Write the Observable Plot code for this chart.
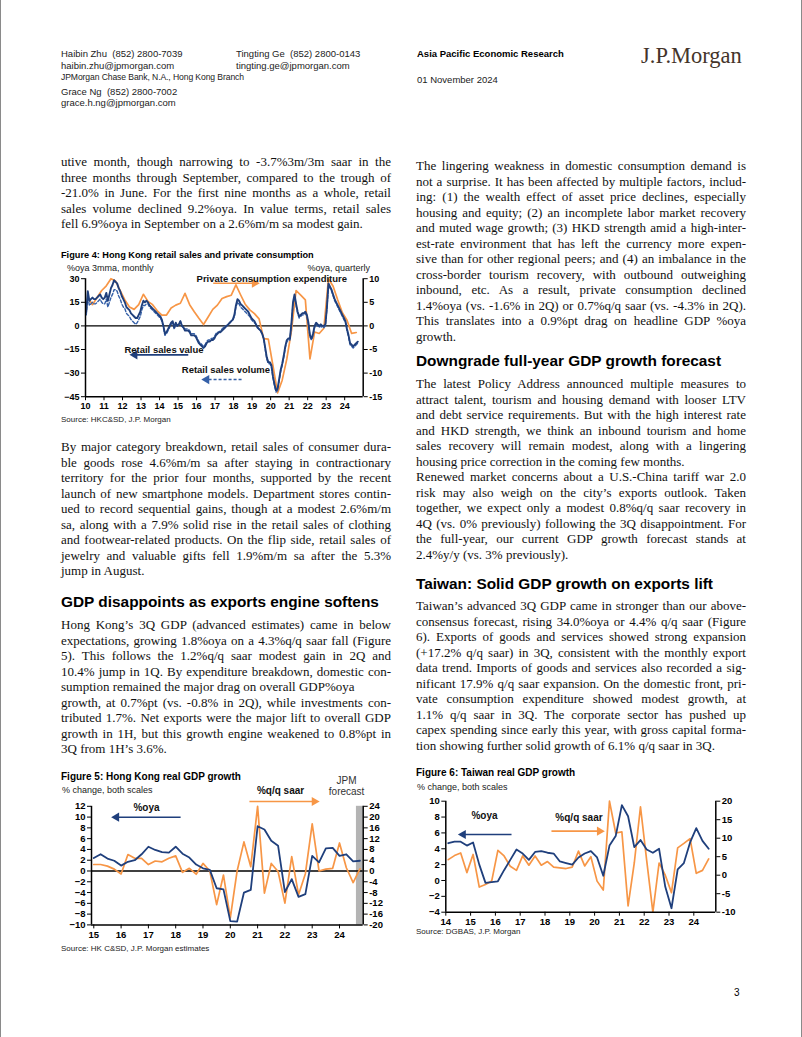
<!DOCTYPE html>
<html><head><meta charset="utf-8">
<script src="https://cdn.jsdelivr.net/npm/d3@7"></script>
<script src="https://cdn.jsdelivr.net/npm/@observablehq/plot@0.6"></script>
<style>
html,body{margin:0;padding:0;background:#fff;}
#page{position:relative;width:802px;height:1037px;overflow:hidden;font-family:"Liberation Sans",Arial,sans-serif;color:#000;box-sizing:border-box;border-left:1px solid #8a8a8a;border-right:1px solid #8a8a8a;}
.a{position:absolute;white-space:nowrap;}
.hdr{font-size:9.5px;line-height:11px;color:#222;}
.ln{position:absolute;white-space:nowrap;height:15.5px;line-height:15.5px;font-family:"Liberation Serif","Times New Roman",serif;font-size:13px;color:#111;}
.h2{font-weight:bold;font-size:15.4px;line-height:18px;}
.ft{font-weight:bold;font-size:10px;line-height:12px;}
.sub{font-size:9px;line-height:11px;color:#222;}
.src{font-size:8px;line-height:10px;color:#222;}
.chart{position:absolute;}
.chart svg{overflow:visible;}
</style></head>
<body><div id="page"></div>
<script>
// ---------------- DATA ----------------
// Figure 4: HK retail sales, %oya 3mma, monthly from Jan 2010 to Sep 2024
const retailValue = [
  9, 22, 16, 17, 18, 17, 17, 18, 19, 20, 18, 17,
  18, 21, 16, 20, 24, 26, 29, 28, 27, 24, 22, 19,
  17, 15, 12, 11, 10, 8, 7, 6, 5, 5, 7, 9,
  13, 16, 15, 16, 15, 13, 12, 11, 10, 9, 8, 7,
  6, 4, 0, -5, -4, -2, 0, 2, 3, -1, 2, 0,
  1, 3, 0, -1, -3, -3, -3, -4, -6, -6, -6, -7,
  -9, -11, -12, -13, -14, -13, -11, -10, -10, -9, -9, -8,
  -6, -5, -4, -4, -3, -2, -1, 0, 1, 2, 3, 4,
  7, 13, 17, 16, 14, 13, 12, 11, 10, 9, 7, 5,
  4, 3, 1, -1, -2, -3, -5, -8, -14, -20, -23, -23,
  -25, -32, -37, -41, -40, -34, -28, -24, -19, -13, -9, -8,
  -8, 2, 15, 20, 14, 9, 6, 7, 8, 8, 9, 7,
  2, -6, -8, -5, 0, 2, 1, 0, 1, 0, 0, 1,
  12, 27, 25, 23, 20, 17, 15, 13, 11, 9, 7, 5,
  3, -2, -6, -11, -12, -13, -12, -11, -10
];
const retailVolume = [
  7, 19, 13, 14, 15, 14, 14, 15, 16, 17, 15, 14,
  14, 17, 12, 15, 18, 20, 23, 23, 22, 19, 17, 14,
  12, 11, 8, 7, 6, 4, 3, 2, 1, 2, 4, 6,
  10, 13, 13, 14, 14, 12, 11, 10, 9, 8, 7, 6,
  5, 3, -1, -6, -5, -3, -1, 1, 2, -2, 1, 0,
  1, 3, 0, -1, -2, -2, -2, -3, -5, -5, -5, -6,
  -8, -10, -11, -12, -13, -12, -10, -9, -9, -8, -8, -7,
  -5, -4, -4, -3, -2, -1, 0, 0, 1, 2, 3, 4,
  6, 12, 15, 14, 12, 11, 10, 9, 8, 7, 6, 4,
  3, 2, 1, -1, -2, -3, -5, -8, -15, -21, -24, -24,
  -26, -33, -38, -42, -41, -35, -29, -25, -20, -14, -10, -9,
  -9, 1, 14, 19, 13, 8, 5, 6, 7, 7, 8, 6,
  1, -7, -9, -6, -1, 1, 0, -1, 0, -1, -1, 0,
  11, 26, 24, 22, 19, 16, 14, 12, 10, 8, 6, 4,
  2, -3, -7, -12, -13, -14, -13, -12, -11
];
// Private consumption expenditure, %oya, quarterly 1Q10-3Q24 (right scale)
const privateConsumption = [
  6.0, 4.5, 6.0, 7.5,   8.5, 10.0, 9.5, 7.5,   5.5, 4.0, 3.5, 4.5,
  6.7, 5.2, 4.5, 3.2,   2.3, 2.3, 3.8, 4.4,   4.8, 6.9, 4.5, 3.0,
  1.6, 0.3, 1.9, 3.5,   4.4, 5.8, 6.2, 6.5,   8.7, 6.6, 4.6, 3.4,
  2.6, 1.5, -2.7, -2.8, -8.4, -14.2, -11.5, -7.0, -1.0, 7.5, 6.5, 5.5,
  -7.0, -1.3, -1.6, -0.5, 10.0, 8.4, 5.5, 2.8,  1.2, -1.6, -1.4
];
// Figure 5: HK real GDP, quarterly 1Q15-4Q24 (4Q24 = JPM forecast)
const hkGdpOya = [
  2.4, 3.1, 2.3, 1.9,  1.0, 1.7, 2.0, 3.1,  4.5, 3.9, 3.5, 3.4,
  4.5, 3.2, 2.5, 1.2,  0.5, 0.2, -3.2, -3.4, -9.3, -9.4, -4.0, -3.5,
  8.3, 7.7, 5.6, 4.7,  -3.9, -1.5, -4.8, -4.3, 2.8, 1.6, 4.2, 4.3,
  2.8, 3.1, 1.8, 1.9
];
const hkGdpSaar = [
  2.4, 2.4, 1.8, 0.7,  -1.1, 6.1, 4.7, 4.7,  2.4, 3.7, 3.4, 4.7,
  5.6, -0.5, 1.0, -1.2, 2.8, 0.0, -12.5, -1.5, -17.4, 0.0, 10.8, 1.6,
  24.0, -8.2, 2.8, -0.2, -11.9, 5.3, -8.8, -1.0, 17.5, 0.0, 0.7, 1.0,
  10.4, 1.2, -4.3, 0.8
];
// Figure 6: Taiwan real GDP, quarterly 1Q14-3Q24
const twGdpOya = [
  4.7, 4.9, 4.9, 4.4,  4.8, 2.0, -0.3, -0.2,  -0.1, 1.3, 2.6, 3.9,
  3.4, 2.6, 3.6, 3.7,  3.5, 3.4, 2.4, 2.2,  2.0, 2.9, 3.4, 3.7,
  2.9, 0.6, 4.4, 5.6,  9.5, 8.1, 4.2, 5.1,  3.9, 3.5, 4.0, -0.8,
  -3.5, 1.4, 2.2, 4.8,  6.6, 5.0, 4.0
];
const twGdpSaar = [
  4.2, 5.3, 6.0, 0.7,  5.6, -3.2, -2.5, -1.6,  6.7, 5.2, 2.4, 1.3,
  5.2, 2.7, 5.2, 2.7,  3.7, 2.2, 2.0, 1.8,  2.2, 6.5, 2.5, 5.0,
  -1.6, -4.0, 20.0, 11.4,  11.7, -8.3, 3.3, 18.5,  4.0, -10.0, 3.3, 0.0,
  -4.7, 7.4, 8.6, 9.9,  0.5, 1.3, 4.4
];
// tick labels
const fig4XTicks = [2010,2011,2012,2013,2014,2015,2016,2017,2018,2019,2020,2021,2022,2023,2024];
const fig4LeftTicks = [30, 15, 0, -15, -30, -45];
const fig4RightTicks = [10, 5, 0, -5, -10, -15];
const fig5XTicks = [2015,2016,2017,2018,2019,2020,2021,2022,2023,2024];
const fig5LeftTicks = [12,10,8,6,4,2,0,-2,-4,-6,-8,-10];
const fig5RightTicks = [24,20,16,12,8,4,0,-4,-8,-12,-16,-20];
const fig6XTicks = [2014,2015,2016,2017,2018,2019,2020,2021,2022,2023,2024];
const fig6LeftTicks = [10,8,6,4,2,0,-2,-4];
const fig6RightTicks = [20,15,10,5,0,-5,-10];

// ---------------- PAGE TEXT ----------------
const page = document.getElementById("page");
function put(text, x, cy, cls, lh, extra) {
  const d = document.createElement("div");
  d.className = "a " + cls;
  d.style.left = x + "px";
  d.style.top = (cy - lh / 2) + "px";
  d.textContent = text;
  if (extra) Object.assign(d.style, extra);
  page.appendChild(d);
  return d;
}
// lines starting with "~" end with a hard break (not justified)
function para(lines, x, cy0, width) {
  const lh = 15.5;
  lines.forEach((raw, i) => {
    const hard = raw.startsWith("~");
    const t = hard ? raw.slice(1) : raw;
    const d = document.createElement("div");
    d.className = "ln";
    d.style.left = x + "px";
    d.style.top = (cy0 + i * lh - lh / 2) + "px";
    d.textContent = t;
    page.appendChild(d);
    if (i < lines.length - 1 && !hard) {
      const w = d.getBoundingClientRect().width;
      const n = (t.match(/ /g) || []).length;
      if (n > 0) d.style.wordSpacing = ((width - w) / n) + "px";
    }
  });
}

// header
put("Haibin Zhu\u00a0\u00a0(852) 2800-7039", 60, 53, "hdr", 11);
put("haibin.zhu@jpmorgan.com", 60, 65, "hdr", 11);
put("JPMorgan Chase Bank, N.A., Hong Kong Branch", 60, 77, "hdr", 11, {fontSize: "8.6px", letterSpacing: "-0.1px"});
put("Grace Ng\u00a0\u00a0(852) 2800-7002", 60, 91, "hdr", 11);
put("grace.h.ng@jpmorgan.com", 60, 102, "hdr", 11);
put("Tingting Ge\u00a0\u00a0(852) 2800-0143", 235, 53, "hdr", 11);
put("tingting.ge@jpmorgan.com", 235, 65, "hdr", 11);
put("Asia Pacific Economic Research", 416, 53, "hdr", 11, {fontWeight: "bold", color: "#000"});
put("01 November 2024", 416, 79, "hdr", 11);
put("J.P.Morgan", 640, 56, "", 26, {fontFamily: "'Liberation Serif','Times New Roman',serif", fontSize: "22.5px", lineHeight: "26px", color: "#44342a", letterSpacing: "0px"});

// left column
para([
  "utive month, though narrowing to -3.7%3m/3m saar in the",
  "three months through September, compared to the trough of",
  "-21.0% in June. For the first nine months as a whole, retail",
  "sales volume declined 9.2%oya. In value terms, retail sales",
  "fell 6.9%oya in September on a 2.6%m/m sa modest gain."
], 60, 162, 330);
put("Figure 4: Hong Kong retail sales and private consumption", 60, 255, "ft", 12, {fontSize: "9.2px"});
put("%oya 3mma, monthly", 66, 268.5, "sub", 11);
put("%oya, quarterly", 369, 268.5, "sub", 11, {transform: "translateX(-100%)"});
put("Source: HKC&SD, J.P. Morgan", 60, 420, "src", 10);
para([
  "By major category breakdown, retail sales of consumer dura-",
  "ble goods rose 4.6%m/m sa after staying in contractionary",
  "territory for the prior four months, supported by the recent",
  "launch of new smartphone models. Department stores contin-",
  "ued to record sequential gains, though at a modest 2.6%m/m",
  "sa, along with a 7.9% solid rise in the retail sales of clothing",
  "and footwear-related products. On the flip side, retail sales of",
  "jewelry and valuable gifts fell 1.9%m/m sa after the 5.3%",
  "jump in August."
], 60, 447, 330);
put("GDP disappoints as exports engine softens", 60, 602, "h2", 18);
para([
  "Hong Kong\u2019s 3Q GDP (advanced estimates) came in below",
  "expectations, growing 1.8%oya on a 4.3%q/q saar fall (Figure",
  "5). This follows the 1.2%q/q saar modest gain in 2Q and",
  "10.4% jump in 1Q. By expenditure breakdown, domestic con-",
  "~sumption remained the major drag on overall GDP%oya",
  "growth, at 0.7%pt (vs. -0.8% in 2Q), while investments con-",
  "tributed 1.7%. Net exports were the major lift to overall GDP",
  "growth in 1H, but this growth engine weakened to 0.8%pt in",
  "3Q from 1H\u2019s 3.6%."
], 60, 625, 330);
put("Figure 5: Hong Kong real GDP growth", 60, 776.5, "ft", 12);
put("% change, both scales", 61, 790.5, "sub", 11);
put("Source: HK C&SD, J.P. Morgan estimates", 60, 949, "src", 10);

// right column
para([
  "The lingering weakness in domestic consumption demand is",
  "not a surprise. It has been affected by multiple factors, includ-",
  "ing: (1) the wealth effect of asset price declines, especially",
  "housing and equity; (2) an incomplete labor market recovery",
  "and muted wage growth; (3) HKD strength amid a high-inter-",
  "est-rate environment that has left the currency more expen-",
  "sive than for other regional peers; and (4) an imbalance in the",
  "cross-border tourism recovery, with outbound outweighing",
  "inbound, etc. As a result, private consumption declined",
  "1.4%oya (vs. -1.6% in 2Q) or 0.7%q/q saar (vs. -4.3% in 2Q).",
  "This translates into a 0.9%pt drag on headline GDP %oya",
  "growth."
], 415, 166, 330);
put("Downgrade full-year GDP growth forecast", 415, 361, "h2", 18);
para([
  "The latest Policy Address announced multiple measures to",
  "attract talent, tourism and housing demand with looser LTV",
  "and debt service requirements. But with the high interest rate",
  "and HKD strength, we think an inbound tourism and home",
  "sales recovery will remain modest, along with a lingering",
  "~housing price correction in the coming few months.",
  "Renewed market concerns about a U.S.-China tariff war 2.0",
  "risk may also weigh on the city\u2019s exports outlook. Taken",
  "together, we expect only a modest 0.8%q/q saar recovery in",
  "4Q (vs. 0% previously) following the 3Q disappointment. For",
  "the full-year, our current GDP growth forecast stands at",
  "2.4%y/y (vs. 3% previously)."
], 415, 384, 330);
put("Taiwan: Solid GDP growth on exports lift", 415, 584, "h2", 18);
para([
  "Taiwan\u2019s advanced 3Q GDP came in stronger than our above-",
  "consensus forecast, rising 34.0%oya or 4.4% q/q saar (Figure",
  "6). Exports of goods and services showed strong expansion",
  "(+17.2% q/q saar) in 3Q, consistent with the monthly export",
  "data trend. Imports of goods and services also recorded a sig-",
  "nificant 17.9% q/q saar expansion. On the domestic front, pri-",
  "vate consumption expenditure showed modest growth, at",
  "1.1% q/q saar in 3Q. The corporate sector has pushed up",
  "capex spending since early this year, with gross capital forma-",
  "tion showing further solid growth of 6.1% q/q saar in 3Q."
], 415, 606, 330);
put("Figure 6: Taiwan real GDP growth", 415, 772.5, "ft", 12);
put("% change, both scales", 416, 787.5, "sub", 11);
put("Source: DGBAS, J.P. Morgan", 415, 932, "src", 10);
put("3", 733, 993, "", 12, {fontSize: "10px", lineHeight: "12px"});

// ---------------- CHARTS ----------------
const ORANGE = "#f79646", BLUE = "#1f3f7c", BLUE_D = "#3560a8";
const fmtYY = d => String(d % 100).padStart(2, "0");
const chartStyle = {fontFamily: "'Liberation Sans', Arial, sans-serif", fontSize: "9.5px", fontWeight: "bold", color: "#000", background: "transparent", overflow: "visible"};
function place(svg, left, top) {
  const w = document.createElement("div");
  w.className = "chart";
  w.style.left = left + "px"; w.style.top = top + "px";
  w.appendChild(svg); page.appendChild(w);
}
function arrowMarks(a, color, dash) {
  return [
    Plot.link([a], {x1: "x1", y1: "y", x2: "x2", y2: "y", stroke: color, strokeWidth: 1.6, strokeDasharray: dash || null}),
    Plot.dot([a], {x: "x2", y: "y", symbol: "triangle", r: 3.4, fill: color, stroke: "none", rotate: a.x2 < a.x1 ? -90 : 90})
  ];
}

// Figure 4
const f4Value = retailValue.map((v, i) => ({t: 2010 + (i + 0.5) / 12, v}));
const f4Volume = retailVolume.map((v, i) => ({t: 2010 + (i + 0.5) / 12, v}));
const f4Pce = privateConsumption.map((v, i) => ({t: 2010 + i / 4 + 0.125, v: v * 3}));
const f4Labels = [
  {text: "Private consumption expenditure", x: 2016.0, y: 29.9},
  {text: "Retail sales value", x: 2012.1, y: -15.0},
  {text: "Retail sales volume", x: 2015.2, y: -28.3}
];
const f4ArrowPce = {x1: 2016.9, x2: 2019.13, y: 27.1};
const f4ArrowValue = {x1: 2015.55, x2: 2012.66, y: -18.4};
const f4ArrowVolume = {x1: 2018.43, x2: 2016.54, y: -34.1};
const fig4 = Plot.plot({
  width: 330, height: 152,
  marginLeft: 24, marginRight: 28.3, marginTop: 16.2, marginBottom: 17.8,
  x: {domain: [2010, 2025]},
  y: {domain: [-45, 30]},
  style: Object.assign({}, chartStyle, {fontSize: "9px"}),
  marks: [
    Plot.ruleY([0], {stroke: "#000", strokeWidth: 1.3}),
    Plot.line(f4Pce, {x: "t", y: "v", stroke: ORANGE, strokeWidth: 1.7}),
    Plot.line(f4Volume, {x: "t", y: "v", stroke: BLUE_D, strokeWidth: 1.4, strokeDasharray: "3,2"}),
    Plot.line(f4Value, {x: "t", y: "v", stroke: BLUE, strokeWidth: 1.9}),
    ...arrowMarks(f4ArrowPce, ORANGE),
    ...arrowMarks(f4ArrowValue, BLUE),
    ...arrowMarks(f4ArrowVolume, BLUE_D, "3,2"),
    Plot.text(f4Labels, {x: "x", y: "y", text: "text", textAnchor: "start", fontWeight: "bold", fontSize: 9.5, fill: "#111"}),
    Plot.ruleX([2010, 2025], {stroke: "#000", strokeWidth: 1.5}),
    Plot.ruleY([-45], {stroke: "#000", strokeWidth: 1.5}),
    Plot.axisY({anchor: "left", ticks: fig4LeftTicks, tickSize: 4, tickPadding: 2, label: null}),
    Plot.axisY({anchor: "right", ticks: fig4RightTicks.map(r => r * 3), tickFormat: d => d / 3, tickSize: 4, tickPadding: 2, label: null}),
    Plot.axisX({ticks: fig4XTicks, tickFormat: fmtYY, tickSize: 4, tickPadding: 2, label: null})
  ]
});
place(fig4, 60, 262);

// Figure 5
const f5X0 = 2014.916, f5X1 = 2024.868;
const f5Oya = hkGdpOya.map((v, i) => ({t: 2015 + i / 4, v}));
const f5Saar = hkGdpSaar.map((v, i) => ({t: 2015 + i / 4, v: v / 2}));
const f5Forecast = [{x1: 2024.62, x2: f5X1, y1: -10, y2: 12}];
const f5Labels = [
  {text: "%oya", x: 2016.93, y: 11.8},
  {text: "%q/q saar", x: 2021.84, y: 14.93}
];
const f5Note = [
  {text: "JPM", x: 2024.26, y: 16.8},
  {text: "forecast", x: 2024.26, y: 14.62}
];
const f5ArrowOya = {x1: 2018.18, x2: 2015.83, y: 9.98};
const f5ArrowSaar = {x1: 2020.70, x2: 2023.08, y: 12.89};
const fig5 = Plot.plot({
  width: 330, height: 172,
  marginLeft: 30, marginRight: 28.3, marginTop: 33.8, marginBottom: 19.6,
  x: {domain: [f5X0, f5X1]},
  y: {domain: [-10, 12]},
  style: chartStyle,
  marks: [
    Plot.rect(f5Forecast, {x1: "x1", x2: "x2", y1: "y1", y2: "y2", fill: "#b4b4b4"}),
    Plot.ruleY([0], {stroke: "#000", strokeWidth: 1.3}),
    Plot.line(f5Saar, {x: "t", y: "v", stroke: ORANGE, strokeWidth: 1.7}),
    Plot.line(f5Oya, {x: "t", y: "v", stroke: BLUE, strokeWidth: 1.8}),
    ...arrowMarks(f5ArrowOya, BLUE),
    ...arrowMarks(f5ArrowSaar, ORANGE),
    Plot.text(f5Labels, {x: "x", y: "y", text: "text", fontWeight: "bold", fill: "#111", fontSize: 10}),
    Plot.text(f5Note, {x: "x", y: "y", text: "text", fontWeight: "normal", fill: "#333", fontSize: 10}),
    Plot.ruleX([f5X0, f5X1], {stroke: "#000", strokeWidth: 1.5}),
    Plot.ruleY([-10], {stroke: "#000", strokeWidth: 1.5}),
    Plot.axisY({anchor: "left", ticks: fig5LeftTicks, tickSize: 4, tickPadding: 2, label: null}),
    Plot.axisY({anchor: "right", ticks: fig5RightTicks.map(r => r / 2), tickFormat: d => d * 2, tickSize: 4, tickPadding: 2, label: null}),
    Plot.axisX({ticks: fig5XTicks, tickFormat: fmtYY, tickSize: 4, tickPadding: 2, label: null})
  ]
});
place(fig5, 60, 772);

// Figure 6
const toLeft6 = r => -4 + (r + 10) * 14 / 30;
const toRight6 = l => Math.round((l + 4) * 30 / 14 - 10);
const f6X0 = 2014, f6X1 = 2024.887;
const f6Oya = twGdpOya.map((v, i) => ({t: 2014 + i / 4 + 0.1, v}));
const f6Saar = twGdpSaar.map((v, i) => ({t: 2014 + i / 4 + 0.1, v: toLeft6(v)}));
const f6Labels = [
  {text: "%oya", x: 2015.56, y: 8.2},
  {text: "%q/q saar", x: 2019.37, y: 7.86}
];
const f6ArrowOya = {x1: 2016.65, x2: 2014.70, y: 5.8};
const f6ArrowSaar = {x1: 2018.26, x2: 2020.20, y: 6.22};
const fig6 = Plot.plot({
  width: 330, height: 135,
  marginLeft: 29.3, marginRight: 30.7, marginTop: 5.7, marginBottom: 18.3,
  x: {domain: [f6X0, f6X1]},
  y: {domain: [-4, 10]},
  style: chartStyle,
  marks: [
    Plot.line(f6Saar, {x: "t", y: "v", stroke: ORANGE, strokeWidth: 1.7}),
    Plot.line(f6Oya, {x: "t", y: "v", stroke: BLUE, strokeWidth: 1.8}),
    ...arrowMarks(f6ArrowOya, BLUE),
    ...arrowMarks(f6ArrowSaar, ORANGE),
    Plot.text(f6Labels, {x: "x", y: "y", text: "text", fontWeight: "bold", fontSize: 10, fill: "#111"}),
    Plot.ruleX([f6X0, f6X1], {stroke: "#000", strokeWidth: 1.5}),
    Plot.ruleY([-4], {stroke: "#000", strokeWidth: 1.5}),
    Plot.axisY({anchor: "left", ticks: fig6LeftTicks, tickSize: 4, tickPadding: 2, label: null}),
    Plot.axisY({anchor: "right", ticks: fig6RightTicks.map(toLeft6), tickFormat: toRight6, tickSize: 4, tickPadding: 2, label: null}),
    Plot.axisX({ticks: fig6XTicks, tickFormat: fmtYY, tickSize: 4, tickPadding: 2, label: null})
  ]
});
place(fig6, 415, 795);
</script></body></html>
